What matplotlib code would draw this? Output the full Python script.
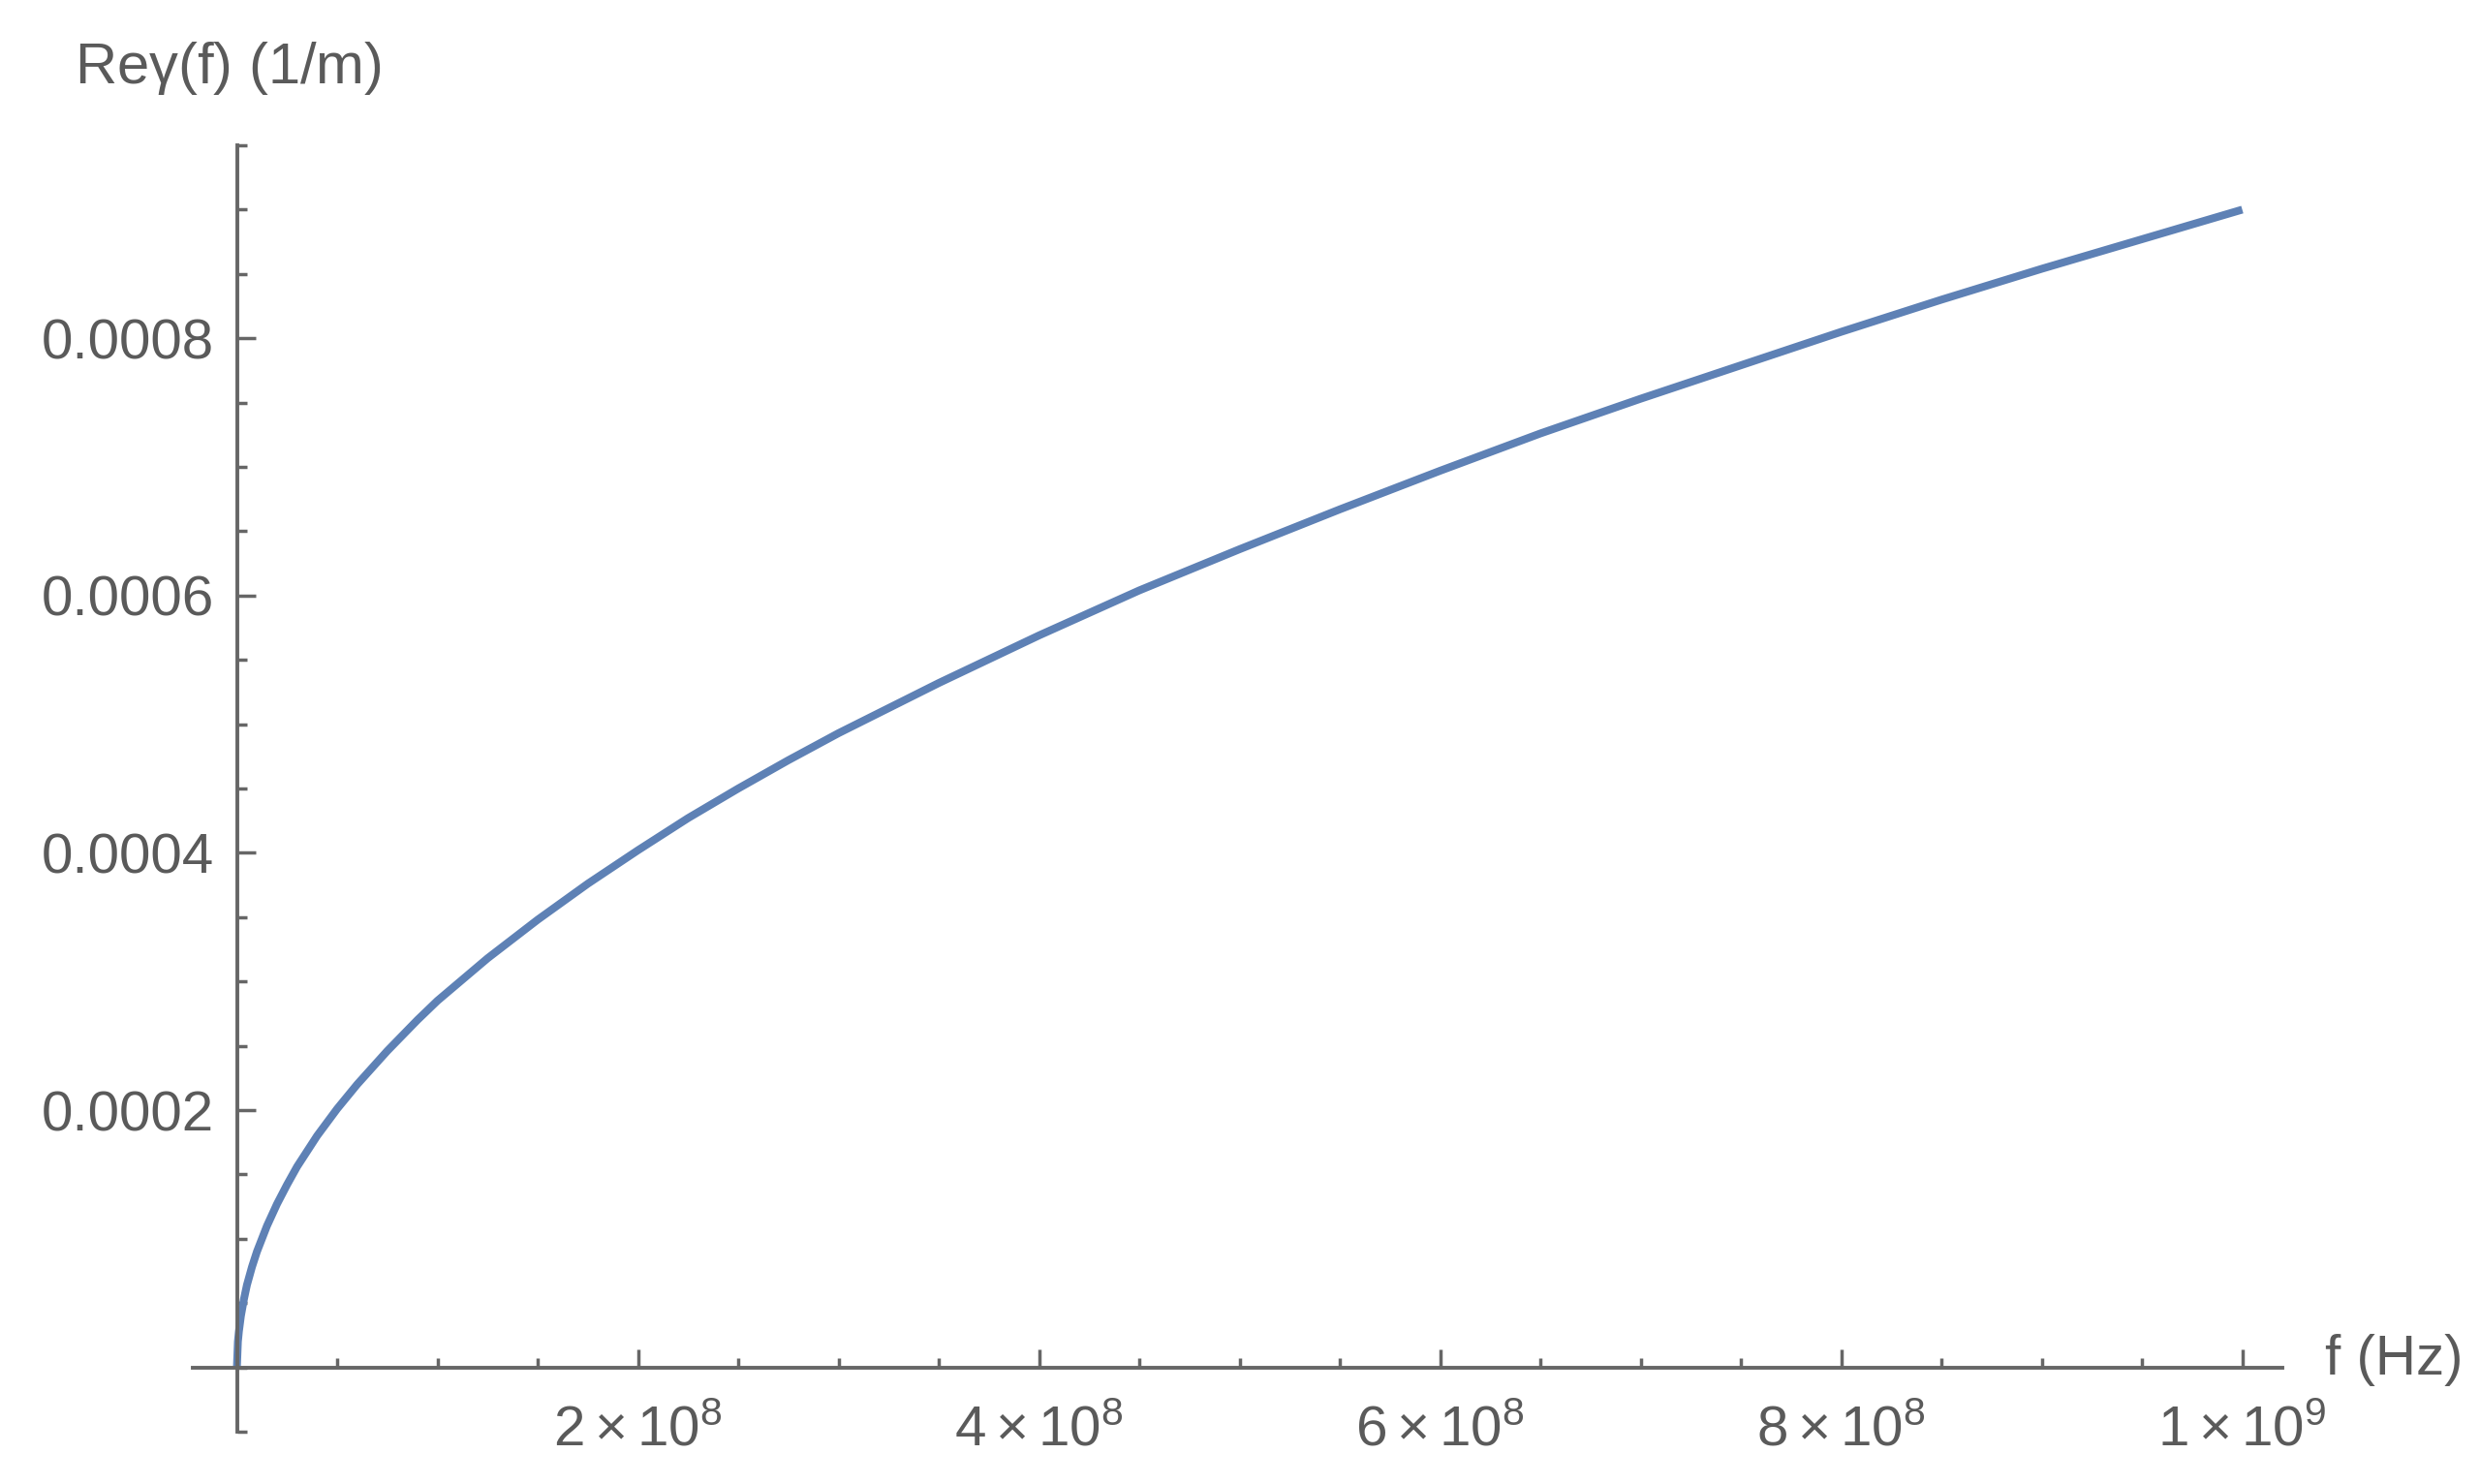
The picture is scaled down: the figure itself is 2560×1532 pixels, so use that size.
import numpy as np
import matplotlib.pyplot as plt
from matplotlib.ticker import FixedLocator, FixedFormatter

freq = np.array([0, 5e5, 1e6, 2e6, 3.5e6, 5e6, 7.5e6, 1e7, 1.5e7, 2e7,
                 2.5e7, 3e7, 4e7, 5e7, 6e7, 7.5e7, 9e7, 1e8, 1.25e8,
                 1.5e8, 1.75e8, 2e8, 2.25e8, 2.5e8, 2.75e8, 3e8, 3.5e8,
                 4e8, 4.5e8, 5e8, 5.5e8, 6e8, 6.5e8, 7e8, 7.5e8, 8e8,
                 8.5e8, 9e8, 9.5e8, 1e9])
re_gamma = np.array([0, 0.00002, 0.000028, 0.00004, 0.000053, 0.000064,
                     0.000078, 0.00009, 0.00011, 0.000127, 0.000142,
                     0.000156, 0.00018, 0.000201, 0.00022, 0.000246,
                     0.00027, 0.000285, 0.000318, 0.000348, 0.000376,
                     0.000402, 0.000427, 0.00045, 0.000472, 0.000493,
                     0.000532, 0.000569, 0.000604, 0.000636, 0.000667,
                     0.000697, 0.000726, 0.000753, 0.000779, 0.000805,
                     0.00083, 0.000854, 0.000877, 0.0009])

x_major = [2e8, 4e8, 6e8, 8e8, 1e9]
x_labels = [r'$2\times10^{8}$', r'$4\times10^{8}$', r'$6\times10^{8}$',
            r'$8\times10^{8}$', r'$1\times10^{9}$']
y_major = [0.0002, 0.0004, 0.0006, 0.0008]
y_labels = ['0.0002', '0.0004', '0.0006', '0.0008']

axis_col = '#666666'
text_col = '#5a5a5a'
line_col = '#5e81b5'

plt.rcParams['font.family'] = 'Liberation Sans'
plt.rcParams['mathtext.fontset'] = 'custom'
plt.rcParams['mathtext.rm'] = 'Liberation Sans'
plt.rcParams['mathtext.it'] = 'Liberation Sans'

fig = plt.figure(figsize=(25.6, 15.32), dpi=100)
ax = fig.add_axes([199 / 2560, 54 / 1532, 2157 / 2560, 1328 / 1532])

ax.plot(freq, re_gamma, color=line_col, lw=5.8, solid_capstyle='butt',
        solid_joinstyle='round')

ax.set_xlim(-2.2e7, 1.02e9)
ax.set_ylim(-0.00005, 0.00095)

for side in ['top', 'right']:
    ax.spines[side].set_visible(False)
for side in ['left', 'bottom']:
    ax.spines[side].set_position(('data', 0))
    ax.spines[side].set_color(axis_col)
    ax.spines[side].set_linewidth(2.8)

ax.xaxis.set_major_locator(FixedLocator(x_major))
ax.xaxis.set_major_formatter(FixedFormatter(x_labels))
ax.xaxis.set_minor_locator(FixedLocator(np.arange(5e7, 1.0e9, 5e7)))
ax.yaxis.set_major_locator(FixedLocator(y_major))
ax.yaxis.set_major_formatter(FixedFormatter(y_labels))
ax.yaxis.set_minor_locator(FixedLocator(np.arange(-0.00005, 0.00096, 0.00005)))

ax.tick_params(which='both', direction='in', color=axis_col, width=2.5,
               labelcolor=text_col, labelsize=42)
ax.tick_params(which='major', length=13.5)
ax.tick_params(which='minor', length=7)
ax.tick_params(axis='x', pad=28)
ax.tick_params(axis='y', pad=17)

fig.text(77 / 2560, 1 - 70 / 1532, r'Re$\gamma$(f) (1/m)', color=text_col,
         fontsize=43, ha='left', va='center')
fig.text(2400 / 2560, 1 - 1404 / 1532, 'f (Hz)', color=text_col,
         fontsize=42, ha='left', va='center')

fig.savefig('out.png', dpi=100, facecolor='white')
